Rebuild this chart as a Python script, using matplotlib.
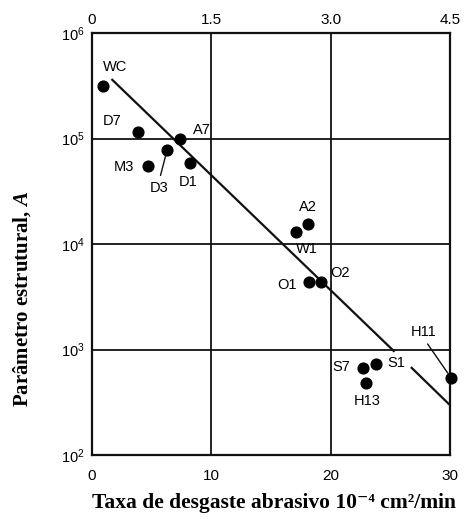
import numpy as np
import matplotlib
matplotlib.use('Agg')
import matplotlib.pyplot as plt

# steel grades: abrasive wear rate (1e-4 cm2/min) vs structural parameter A
grades = ['WC', 'D7', 'A7', 'D3', 'M3', 'D1', 'A2', 'W1', 'O1', 'O2', 'S7', 'S1', 'H13', 'H11']
wear = [0.9, 3.85, 7.4, 6.3, 4.7, 8.2, 18.1, 17.1, 18.2, 19.2, 22.7, 23.8, 23.0, 30.1]
param_a = [3.15e5, 1.15e5, 1.0e5, 7.8e4, 5.5e4, 5.9e4, 1.55e4, 1.3e4, 4.4e3, 4.4e3, 670, 730, 480, 540]

# label offsets in points (x, y) relative to each point
label_off = {
    'WC': (8.6, 13.7), 'D7': (-18.7, 7.9), 'A7': (15.8, 5.8), 'D3': (-5.8, -27.4),
    'M3': (-17.3, -0.7), 'D1': (-1.4, -13.7), 'A2': (0, 12.2), 'W1': (7.9, -12.2),
    'O1': (-15.8, -2.2), 'O2': (13.7, 6.5), 'S7': (-15.8, 0.7), 'S1': (14.4, 0.7),
    'H13': (0.7, -13.0), 'H11': (-19.4, 33.0),
}
# leader lines: where on the label box they start
leaders = {'D3': (0.5, 1.0), 'H11': (0.5, 0.0)}

# fitted trend line, drawn in two pieces (gap for the S1 label)
trend_x1 = [1.7, 25.3]
trend_y1 = [3.6e5, 968]
trend_x2 = [26.8, 30]
trend_y2 = [670, 298]

bottom_ticks = [0, 10, 20, 30]
top_labels = ['0', '1.5', '3.0', '4.5']

plt.rcParams['mathtext.fontset'] = 'custom'
plt.rcParams['mathtext.rm'] = 'Liberation Sans'
plt.rcParams['mathtext.it'] = 'Liberation Serif:italic:bold'
plt.rcParams['font.family'] = ['Liberation Sans', 'DejaVu Sans']

fig = plt.figure(figsize=(4.73, 5.19), dpi=100)
ax = fig.add_axes([0.1945, 0.1233, 0.7565, 0.8131])

ax.set_yscale('log')
ax.set_xlim(0, 30)
ax.set_ylim(1e2, 1e6)
ax.set_xticks(bottom_ticks)
ax.set_yticks([1e2, 1e3, 1e4, 1e5, 1e6])
ax.minorticks_off()
ax.tick_params(axis='y', length=0, labelsize=10.5, pad=5)
ax.tick_params(axis='x', length=0, labelsize=11, pad=10)
ax.grid(True, color='#111111', linewidth=1.3)
for s in ax.spines.values():
    s.set_linewidth(1.6)
    s.set_color('#111111')

ax.plot(trend_x1, trend_y1, color='#111111', lw=1.6)
ax.plot(trend_x2, trend_y2, color='#111111', lw=1.6)
ax.scatter(wear, param_a, s=60, color='black', zorder=5, clip_on=False)

for name, x, y in zip(grades, wear, param_a):
    dx, dy = label_off[name]
    if name in leaders:
        # leader line from label to the point
        ax.annotate(name, (x, y), xytext=(dx, dy), textcoords='offset points',
                    ha='center', va='center', fontsize=10.5, annotation_clip=False,
                    arrowprops=dict(arrowstyle='-', color='#111111', lw=1.0,
                                    relpos=leaders[name], shrinkA=2, shrinkB=4))
    else:
        ax.annotate(name, (x, y), xytext=(dx, dy), textcoords='offset points',
                    ha='center', va='center', fontsize=10.5, annotation_clip=False)

top = ax.twiny()
top.set_xlim(ax.get_xlim())
top.set_xticks(bottom_ticks)
top.set_xticklabels(top_labels)
top.tick_params(axis='x', length=0, labelsize=11, pad=4)
for s in top.spines.values():
    s.set_visible(False)

fig.text(0.58, 0.031, 'Taxa de desgaste abrasivo 10⁻⁴ cm²/min', ha='center', va='center',
         fontsize=15.5, fontweight='bold', family=['Liberation Serif', 'DejaVu Serif'])
fig.text(0.046, 0.424, 'Parâmetro estrutural, $\\mathit{A}$', ha='center', va='center',
         rotation=90, fontsize=15, fontweight='bold', family=['Liberation Serif', 'DejaVu Serif'])

fig.savefig('out.png', dpi=100)
